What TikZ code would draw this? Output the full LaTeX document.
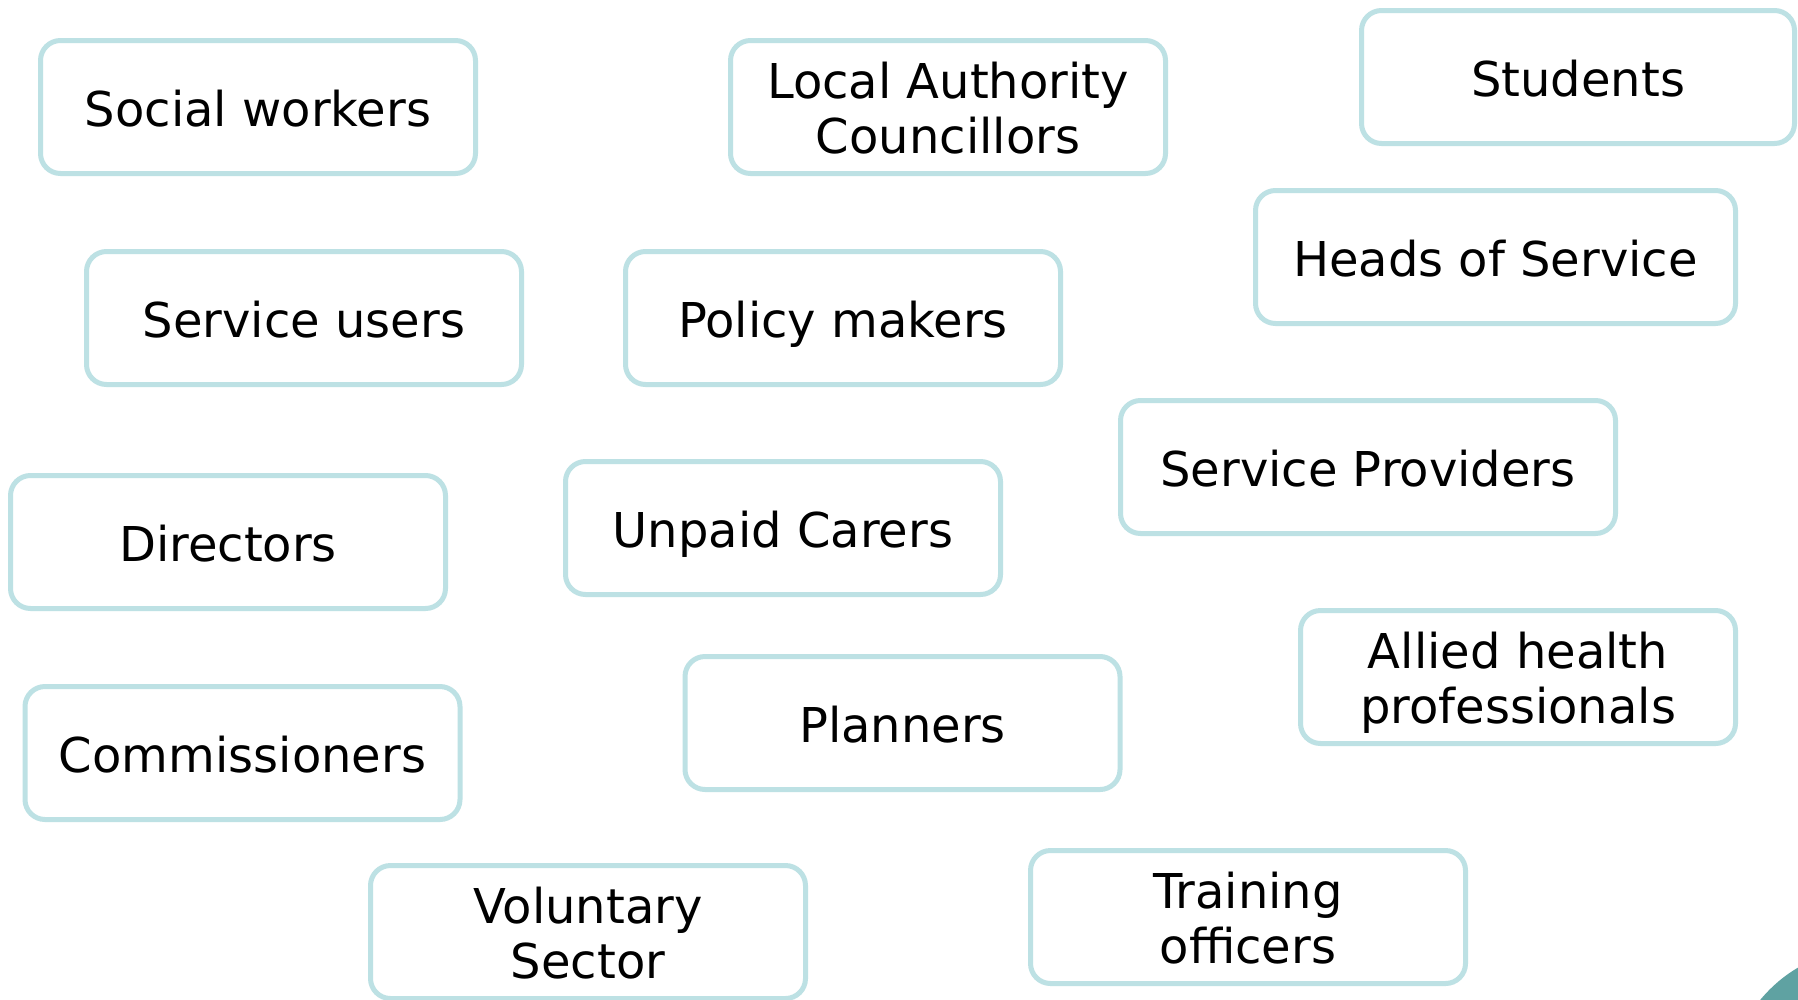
\documentclass[tikz,border=0pt]{standalone}
\usepackage{fontspec}
\setmainfont{DejaVu Sans}
\definecolor{boxline}{HTML}{BDE1E4}
\definecolor{cornerteal}{HTML}{5FA2A2}
\newcommand\twoline[2]{\raisebox{0pt}[44pt][6.4pt]{#1}\\\raisebox{0pt}[44pt][6.4pt]{#2}}
\tikzset{
  grp/.style={draw=boxline, line width=5pt, rounded corners=20pt, fill=white,
    inner sep=0pt, align=center, text=black,
    minimum width=435pt, minimum height=133pt,
    font=\fontsize{48}{55}\selectfont},
  one/.style={text height=45pt, text depth=6pt},
}
\begin{document}
\begin{tikzpicture}[x=1pt,y=-1pt]
\useasboundingbox[fill=white] (0,0) rectangle (1798,999);
\fill[cornerteal] (1870,1090) circle (142);
\node[grp, one] (sw)  at (258,107) {Social workers};
\node[grp] (lac) at (948,107) {\twoline{Local Authority}{Councillors}};
\node[grp, one, minimum width=433pt] (stu) at (1578,77) {Students};
\node[grp, one, minimum width=480pt] (hos) at (1495.5,257) {Heads of Service};
\node[grp, one] (su)  at (304,318) {Service users};
\node[grp, one] (pm)  at (843,318) {Policy makers};
\node[grp, one, minimum width=495pt] (sp)  at (1368,467) {Service Providers};
\node[grp, one] (dir) at (228,542) {Directors};
\node[grp, one] (uc)  at (783,528) {Unpaid Carers};
\node[grp] (ahp) at (1518,677) {\twoline{Allied health}{professionals}};
\node[grp, one] (com) at (242.5,753) {Commissioners};
\node[grp, one] (pl)  at (902.5,723) {Planners};
\node[grp] (vs)  at (588,932) {\twoline{Voluntary}{Sector}};
\node[grp] (to)  at (1248,917) {\twoline{Training}{officers}};
\end{tikzpicture}
\end{document}
